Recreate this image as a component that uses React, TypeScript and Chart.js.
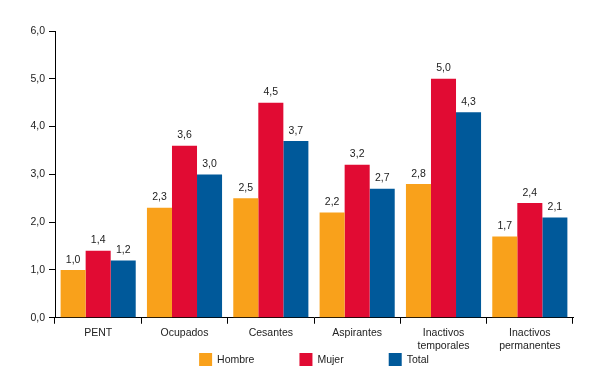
import React, { useEffect, useRef } from "react";
import { Chart, registerables } from "chart.js";

Chart.register(...registerables);

const categories: (string | string[])[] = [
  "PENT",
  "Ocupados",
  "Cesantes",
  "Aspirantes",
  ["Inactivos", "temporales"],
  ["Inactivos", "permanentes"],
];
const hombre = [1.0, 2.3, 2.5, 2.2, 2.8, 1.7];
const mujer = [1.4, 3.6, 4.5, 3.2, 5.0, 2.4];
const total = [1.2, 3.0, 3.7, 2.7, 4.3, 2.1];
const seriesNames = ["Hombre", "Mujer", "Total"];
const colors = ["#F9A11B", "#E10B33", "#00599A"];

const FONT = "'Liberation Sans', Arial, sans-serif";
const fmt = (v: number) => v.toFixed(1).replace(".", ",");

const valueLabels = {
  id: "valueLabels",
  afterDatasetsDraw(chart: any) {
    const ctx = chart.ctx;
    ctx.save();
    ctx.font = `10.5px ${FONT}`;
    ctx.fillStyle = "#222";
    ctx.textAlign = "center";
    ctx.textBaseline = "bottom";
    chart.data.datasets.forEach((ds: any, i: number) => {
      const meta = chart.getDatasetMeta(i);
      meta.data.forEach((bar: any, j: number) => {
        ctx.fillText(fmt(ds.data[j]), bar.x, bar.y - 5);
      });
    });
    ctx.restore();
  },
};

const customLegend = {
  id: "customLegend",
  afterDraw(chart: any) {
    const ctx = chart.ctx;
    ctx.save();
    ctx.font = `10.5px ${FONT}`;
    ctx.textBaseline = "middle";
    ctx.textAlign = "left";
    const box = 13;
    const gapText = 5;
    const gapItem = 45;
    const widths = chart.data.datasets.map(
      (ds: any) => box + gapText + ctx.measureText(ds.label).width
    );
    const groupW =
      widths.reduce((a: number, b: number) => a + b, 0) + gapItem * (widths.length - 1);
    let x = (chart.width - groupW) / 2 + 14;
    const yTop = 353;
    chart.data.datasets.forEach((ds: any, i: number) => {
      ctx.fillStyle = ds.backgroundColor;
      ctx.fillRect(x, yTop, box, box);
      ctx.fillStyle = "#222";
      ctx.fillText(ds.label, x + box + gapText, yTop + box / 2 + 0.5);
      x += widths[i] + gapItem;
    });
    ctx.restore();
  },
};

export default function App() {
  const ref = useRef<HTMLCanvasElement>(null);
  useEffect(() => {
    document.body.style.margin = "0";
    const chart = new Chart(ref.current!, {
      type: "bar",
      data: {
        labels: categories,
        datasets: [hombre, mujer, total].map((d, i) => ({
          label: seriesNames[i],
          data: d,
          backgroundColor: colors[i],
          borderWidth: 0,
          categoryPercentage: 0.87,
          barPercentage: 1,
        })),
      },
      options: {
        animation: false,
        responsive: false,
        layout: { padding: { top: 31, right: 27, left: 0, bottom: 35 } },
        plugins: {
          tooltip: { enabled: false },
          legend: { display: false },
        },
        scales: {
          x: {
            grid: { drawOnChartArea: false, tickLength: 6, color: "#000" },
            border: { color: "#000", width: 1 },
            ticks: {
              color: "#222",
              padding: 3,
              font: { size: 10.5, family: FONT, lineHeight: 1.25 },
              maxRotation: 0,
            },
          },
          y: {
            min: 0,
            max: 6,
            afterFit: (axis: any) => {
              axis.width = 55;
            },
            grid: { drawOnChartArea: false, tickLength: 6, color: "#000" },
            border: { color: "#000", width: 1 },
            ticks: {
              stepSize: 1,
              color: "#222",
              padding: 4,
              font: { size: 10.5, family: FONT },
              callback: (v: any) => fmt(Number(v)),
            },
          },
        },
      },
      plugins: [valueLabels, customLegend],
    });
    return () => chart.destroy();
  }, []);
  return (
    <div style={{ width: 600, height: 391, background: "#fff" }}>
      <canvas ref={ref} width={600} height={391} />
    </div>
  );
}
